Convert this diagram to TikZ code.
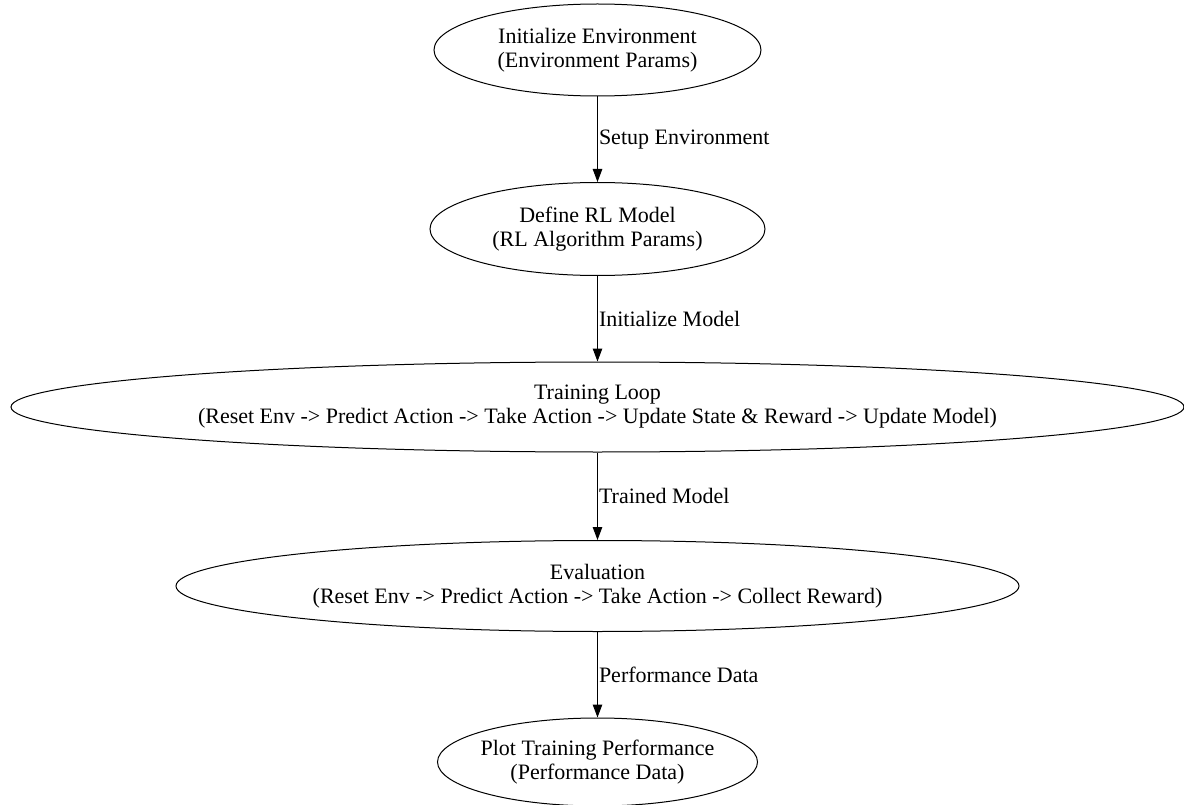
\documentclass[tikz,border=0pt]{standalone}
\usepackage{fontspec}
\setmainfont{Liberation Serif}
\newfontfamily\gvfont{Liberation Serif}
\usetikzlibrary{shapes.geometric,arrows.meta}
\tikzset{
  stage/.style={ellipse, draw, line width=1pt, inner sep=0pt, align=center,
    font=\gvfont\fontsize{22}{24}\selectfont},
  flow/.style={draw, line width=1pt, -{Triangle[length=13pt,width=9.5pt]}},
  elabel/.style={anchor=west, inner sep=0pt, font=\gvfont\fontsize{22}{24}\selectfont}
}
\begin{document}
\begin{tikzpicture}[x=1pt,y=-1pt]
\useasboundingbox (0,0) rectangle (1184,805);
\node[stage, minimum width=327pt, minimum height=92pt, inner xsep=-8pt] (n1) at (597.5,50) {Initialize Environment\\(Environment Params)};
\node[stage, minimum width=335pt, minimum height=93pt, inner xsep=-8pt] (n2) at (597.5,229) {Define RL Model\\(RL Algorithm Params)};
\node[stage, minimum width=1173pt, minimum height=90pt, inner xsep=-20pt, inner ysep=-20pt] (n3) at (597.5,407) {Training Loop\\(Reset Env -> Predict Action -> Take Action -> Update State \& Reward -> Update Model)};
\node[stage, minimum width=843pt, minimum height=91pt, inner xsep=-20pt, inner ysep=-20pt] (n4) at (597.5,586) {Evaluation\\(Reset Env -> Predict Action -> Take Action -> Collect Reward)};
\node[stage, minimum width=320pt, minimum height=88pt, inner xsep=-8pt] (n5) at (597.5,762) {Plot Training Performance\\(Performance Data)};
\draw[flow] (n1) -- (n2) node[elabel, pos=0.5, xshift=1pt] (l1) {Setup Environment};
\draw[flow] (n2) -- (n3) node[elabel, pos=0.5, xshift=1pt] (l2) {Initialize Model};
\draw[flow] (n3) -- (n4) node[elabel, pos=0.5, xshift=1pt] (l3) {Trained Model};
\draw[flow] (n4) -- (n5) node[elabel, pos=0.5, xshift=1pt] (l4) {Performance Data};
\end{tikzpicture}
\end{document}
